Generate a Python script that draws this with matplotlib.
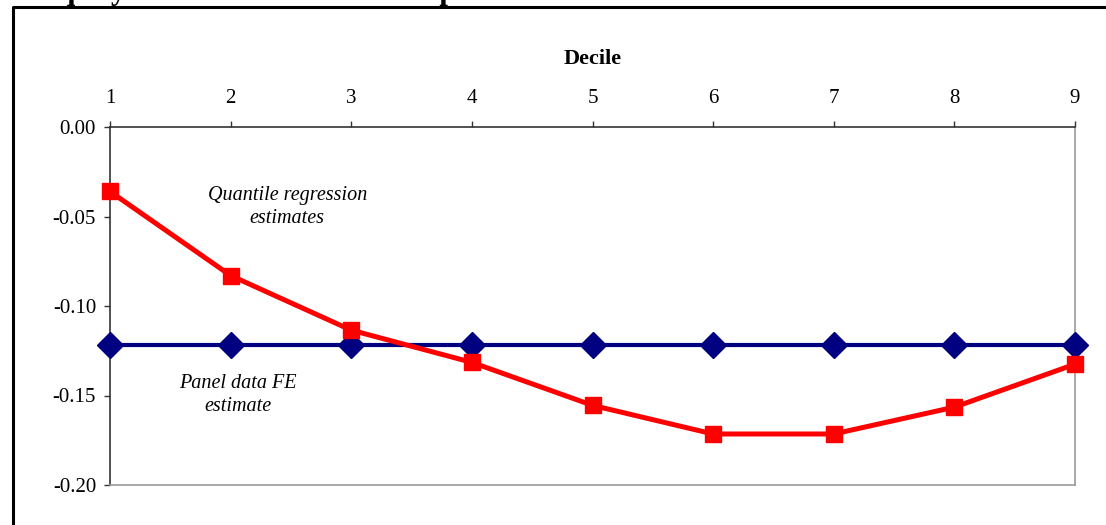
import matplotlib.pyplot as plt
from matplotlib.lines import Line2D

deciles = [1, 2, 3, 4, 5, 6, 7, 8, 9]
quantile_est = [-0.036, -0.083, -0.1135, -0.1315, -0.1555, -0.1715, -0.1715, -0.1565, -0.1325]
panel_fe = [-0.122] * 9
y_ticks = [0.00, -0.05, -0.10, -0.15, -0.20]

plt.rcParams['font.family'] = ['Liberation Serif', 'DejaVu Serif']

fig = plt.figure(figsize=(11.06, 5.25), dpi=100)
ax = fig.add_axes([110 / 1106, 1 - 485 / 525, (1075 - 110) / 1106, (485 - 127) / 525])

ax.plot(deciles, panel_fe, color='#000080', lw=3, marker='D', ms=13,
        clip_on=False, zorder=3)
ax.plot(deciles, quantile_est, color='#ff0000', lw=3.6, marker='s', ms=11.5,
        clip_on=False, zorder=4)

ax.set_xlim(1, 9)
ax.set_ylim(-0.20, 0.00)
ax.set_xticks(deciles)
ax.set_yticks(y_ticks)
ax.set_yticklabels([f"{v:.2f}" for v in y_ticks])

ax.xaxis.tick_top()
ax.xaxis.set_label_position('top')
ax.set_xlabel('Decile', fontsize=16, fontweight='bold', labelpad=18)
ax.tick_params(axis='x', direction='out', length=4.5, width=1, pad=9,
               labelsize=15, colors='#333333', labelcolor='black')
ax.tick_params(axis='y', direction='out', length=4.5, width=1, pad=5.5,
               labelsize=15, colors='#333333', labelcolor='black')

ax.spines['top'].set_color('#333333')
ax.spines['left'].set_color('#333333')
ax.spines['right'].set_color('#999999')
ax.spines['bottom'].set_color('#999999')
for s in ax.spines.values():
    s.set_linewidth(1.2)

ax.text(2.47, -0.0447, 'Quantile regression\nestimates', ha='center', va='center',
        fontsize=14.5, style='italic', linespacing=1.35)
ax.text(2.06, -0.1497, 'Panel data FE\nestimate', ha='center', va='center',
        fontsize=14.5, style='italic', linespacing=1.35)

# cut-off heading and frame from the page
fig.text(38 / 1106, 1 + 0.5 / 525, 'Equity co-association of Great private firms',
         fontsize=22, fontweight='bold', va='baseline', ha='left')
fig.add_artist(Line2D([13 / 1106, 13 / 1106, 1.0], [0.0, 1 - 7 / 525, 1 - 7 / 525],
                      color='black', lw=2.2, transform=fig.transFigure))

fig.savefig('out.png', dpi=100)
